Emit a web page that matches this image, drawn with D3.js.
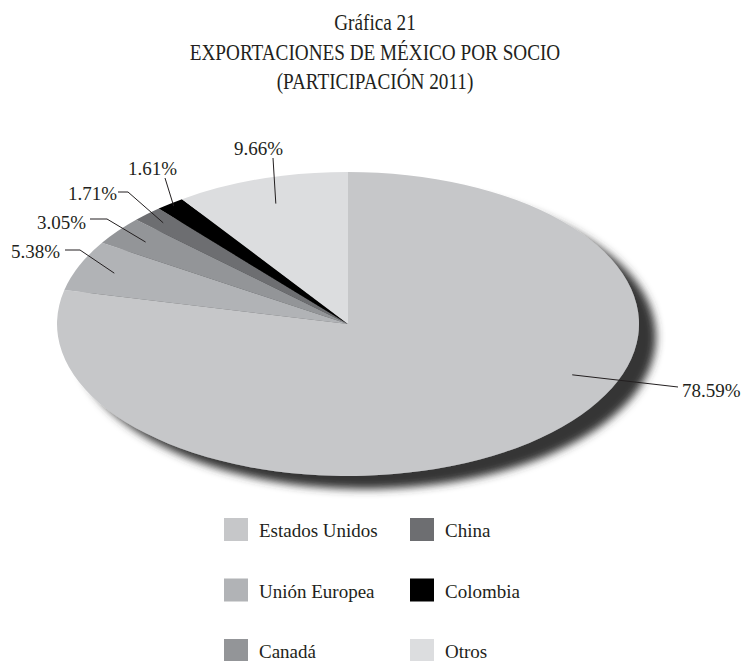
<!DOCTYPE html>
<html><head><meta charset="utf-8">
<script src="https://cdn.jsdelivr.net/npm/d3@7"></script>
<style>
html,body{margin:0;padding:0;background:#fff;}
svg{display:block;}
text{font-family:"Liberation Serif","DejaVu Serif",serif;fill:#231f20;}
</style></head>
<body>
<svg id="chart" width="742" height="661"></svg>
<script>
// ---- data ----
const titleLines = ["Gráfica 21", "EXPORTACIONES DE MÉXICO POR SOCIO", "(PARTICIPACIÓN 2011)"];
const categories = ["Estados Unidos", "Unión Europea", "Canadá", "China", "Colombia", "Otros"];
const shares = [78.59, 5.38, 3.05, 1.71, 1.61, 9.66];
const valueLabels = ["78.59%", "5.38%", "3.05%", "1.71%", "1.61%", "9.66%"];
const colors = ["#c6c7c9", "#b1b3b6", "#939598", "#6d6e71", "#000000", "#dcdddf"];

// ---- layout (annotation placement) ----
const cx = 348, cy = 324, rx = 291, ry = 152;
const labelLayout = [
  {t:0.401, r:0.84, x:682, y:397, anchor:"start", pts:[[678,387]]},
  {t:0.5,   r:0.87, x:60,  y:258, anchor:"end",   pts:[[65,250],[80,250]]},
  {t:0.5,   r:0.88, x:86,  y:229, anchor:"end",   pts:[[90,219],[107,219]]},
  {t:0.5,   r:0.92, x:117, y:200, anchor:"end",   pts:[[118,192],[128,192]]},
  {t:0.5,   r:0.98, x:177, y:175, anchor:"end",   pts:[[165,178]]},
  {t:0.5,   r:0.83, x:283, y:155, anchor:"end",   pts:[[273,158]]}
];
const legendCols = [[0,1,2],[3,4,5]];

const svg = d3.select("#chart");

// title
const tg = svg.append("g");
const titleY = [30, 60, 89];
titleLines.forEach((t,i)=>{
  tg.append("text")
    .attr("transform", `translate(375,${titleY[i]}) scale(0.8,1)`)
    .attr("text-anchor","middle")
    .attr("font-size", 24)
    .text(t);
});

// shadow filter
const defs = svg.append("defs");
const f = defs.append("filter").attr("id","shadow")
  .attr("x","-20%").attr("y","-20%").attr("width","140%").attr("height","150%");
f.append("feDropShadow").attr("dx",17).attr("dy",13).attr("stdDeviation",4.5)
  .attr("flood-color","#363636").attr("flood-opacity",1);

const pie = d3.pie().sort(null).value(d=>d);
const arcs = pie(shares);
const arc = d3.arc().innerRadius(0).outerRadius(ry);

const outer = svg.append("g").attr("transform",`translate(${cx},${cy})`).attr("filter","url(#shadow)");
const inner = outer.append("g").attr("transform",`scale(${rx/ry},1)`);
inner.selectAll("path").data(arcs).join("path")
  .attr("d", arc)
  .attr("fill",(d,i)=>colors[i]);

// labels + leader lines
const lg = svg.append("g");
arcs.forEach((a,i)=>{
  const L = labelLayout[i];
  const ang = a.startAngle + (a.endAngle - a.startAngle)*L.t;
  const px = cx + rx*L.r*Math.sin(ang);
  const py = cy - ry*L.r*Math.cos(ang);
  const pts = L.pts.concat([[px,py]]);
  lg.append("path")
    .attr("d", d3.line()(pts))
    .attr("fill","none").attr("stroke","#231f20").attr("stroke-width",1);
  lg.append("text")
    .attr("x",L.x).attr("y",L.y)
    .attr("text-anchor",L.anchor)
    .attr("font-size",19)
    .text(valueLabels[i]);
});

// legend
const colX = d3.scaleOrdinal().domain([0,1]).range([224,410]);
const rowY = d3.scalePoint().domain([0,1,2]).range([518,639]);
const leg = svg.append("g");
legendCols.forEach((col,ci)=>{
  col.forEach((idx,ri)=>{
    const g = leg.append("g").attr("transform",`translate(${colX(ci)},${rowY(ri)})`);
    g.append("rect").attr("width",24).attr("height",23).attr("fill",colors[idx]);
    g.append("text").attr("x",35).attr("y",19).attr("font-size",19).text(categories[idx]);
  });
});
</script>
</body></html>
